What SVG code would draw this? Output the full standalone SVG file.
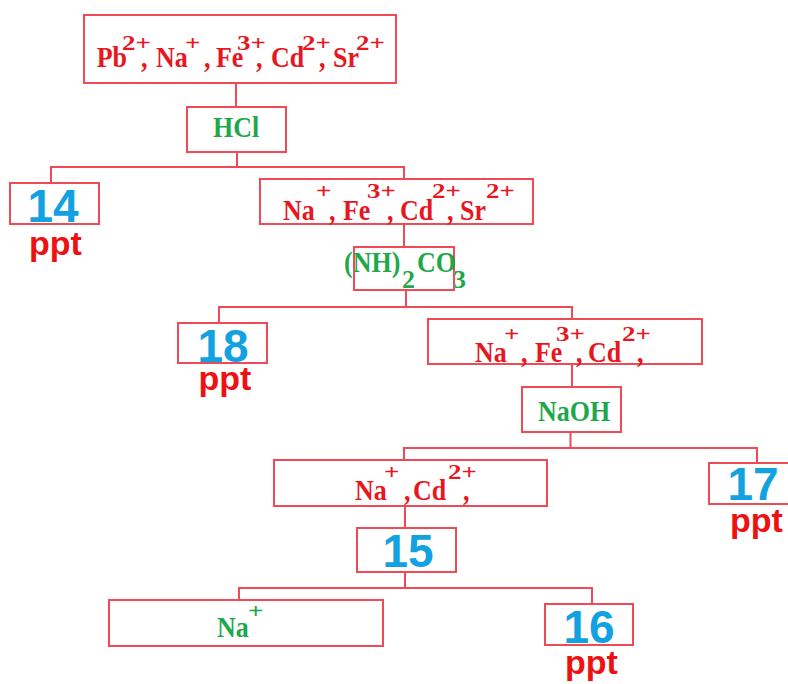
<svg xmlns="http://www.w3.org/2000/svg" width="788" height="684" viewBox="0 0 788 684">
  <style>
    .box { fill: #ffffff; stroke: #ef4a55; stroke-width: 2; }
    .wire { fill: none; stroke: #ef4a55; stroke-width: 2; }
    .ion { font-family: "Liberation Serif", "Times New Roman", serif; font-weight: bold; font-size: 26px; fill: #e8161f; }
    .reag { font-family: "Liberation Serif", "Times New Roman", serif; font-weight: bold; font-size: 26px; fill: #1ea84a; }
    .sup { font-size: 27px; }
    .num { font-family: "Liberation Sans", Arial, sans-serif; font-weight: bold; font-size: 46px; fill: #12a2e2; text-anchor: middle; }
    .ppt { font-family: "Liberation Sans", Arial, sans-serif; font-weight: bold; font-size: 34px; fill: #ee1111; text-anchor: middle; }
  </style>

  <!-- connectors -->
  <g id="connectors" class="wire">
    <path d="M236 83V107"/>
    <path d="M237 152V167M51 183V167H404V179"/>
    <path d="M404 224V247"/>
    <path d="M406 290V307M219 323V307H572V319"/>
    <path d="M572 364V387"/>
    <path d="M570.5 432V448M404 460V448H757V463"/>
    <path d="M405 506V528"/>
    <path d="M405 572V588M239 600V588H592V604"/>
  </g>

  <!-- starting mixture -->
  <g id="mixture">
    <rect class="box" x="84" y="15" width="312" height="68"/>
    <g transform="translate(0 66.7) scale(1 1.12)">
      <text class="ion" x="96.7">Pb</text>
      <text class="ion" x="141">,</text>
      <text class="ion" x="156">Na</text>
      <text class="ion" x="204">,</text>
      <text class="ion" x="216">Fe</text>
      <text class="ion" x="256">,</text>
      <text class="ion" x="271">Cd</text>
      <text class="ion" x="319">,</text>
      <text class="ion" x="333">Sr</text>
    </g>
    <g transform="translate(0 50) scale(1 0.75)">
      <text class="ion sup" x="122">2+</text>
      <text class="ion sup" x="185">+</text>
      <text class="ion sup" x="237">3+</text>
      <text class="ion sup" x="302">2+</text>
      <text class="ion sup" x="356">2+</text>
    </g>
  </g>

  <g id="hcl">
    <rect class="box" x="187" y="107" width="99" height="45"/>
    <g transform="translate(0 137) scale(1 1.12)">
      <text class="reag" x="213">HCl</text>
    </g>
  </g>

  <g id="ppt14">
    <rect class="box" x="10" y="183" width="89" height="41"/>
    <text class="num" x="53" y="222">14</text>
    <text class="ppt" x="55.5" y="255">ppt</text>
  </g>

  <g id="filtrate1">
    <rect class="box" x="260" y="179" width="273" height="45"/>
    <g transform="translate(0 220) scale(1 1.12)">
      <text class="ion" x="283">Na</text>
      <text class="ion" x="329">,</text>
      <text class="ion" x="343">Fe</text>
      <text class="ion" x="387">,</text>
      <text class="ion" x="400">Cd</text>
      <text class="ion" x="447">,</text>
      <text class="ion" x="460">Sr</text>
    </g>
    <g transform="translate(0 198) scale(1 0.75)">
      <text class="ion sup" x="316">+</text>
      <text class="ion sup" x="367">3+</text>
      <text class="ion sup" x="432">2+</text>
      <text class="ion sup" x="486">2+</text>
    </g>
  </g>

  <g id="carbonate">
    <rect class="box" x="354" y="247" width="100" height="43"/>
    <g transform="translate(0 271.7) scale(1 1.1)">
      <text class="reag" x="344">(NH)</text>
      <text class="reag" x="417">CO</text>
    </g>
    <text class="reag" x="402" y="288">2</text>
    <text class="reag" x="453" y="288">3</text>
  </g>

  <g id="ppt18">
    <rect class="box" x="178" y="323" width="89" height="40"/>
    <text class="num" x="223" y="361.7">18</text>
    <text class="ppt" x="225" y="390">ppt</text>
  </g>

  <g id="filtrate2">
    <rect class="box" x="428" y="319" width="274" height="45"/>
    <g transform="translate(0 361.7) scale(1 1.12)">
      <text class="ion" x="475">Na</text>
      <text class="ion" x="521">,</text>
      <text class="ion" x="535">Fe</text>
      <text class="ion" x="576">,</text>
      <text class="ion" x="588">Cd</text>
      <text class="ion" x="637">,</text>
    </g>
    <g transform="translate(0 341) scale(1 0.75)">
      <text class="ion sup" x="504">+</text>
      <text class="ion sup" x="556">3+</text>
      <text class="ion sup" x="622">2+</text>
    </g>
  </g>

  <g id="naoh">
    <rect class="box" x="522" y="387" width="99" height="45"/>
    <g transform="translate(0 421) scale(1 1.12)">
      <text class="reag" x="538">NaOH</text>
    </g>
  </g>

  <g id="filtrate3">
    <rect class="box" x="274" y="460" width="273" height="46"/>
    <g transform="translate(0 499.5) scale(1 1.12)">
      <text class="ion" x="355">Na</text>
      <text class="ion" x="404">,</text>
      <text class="ion" x="413">Cd</text>
      <text class="ion" x="463">,</text>
    </g>
    <g transform="translate(0 479) scale(1 0.75)">
      <text class="ion sup" x="384">+</text>
      <text class="ion sup" x="448">2+</text>
    </g>
  </g>

  <g id="ppt17">
    <rect class="box" x="709" y="463" width="89" height="41"/>
    <text class="num" x="753" y="500">17</text>
    <text class="ppt" x="756.5" y="532">ppt</text>
  </g>

  <g id="step15">
    <rect class="box" x="357" y="528" width="99" height="44"/>
    <text class="num" x="408" y="566.7">15</text>
  </g>

  <g id="sodium">
    <rect class="box" x="109" y="600" width="274" height="46"/>
    <g transform="translate(0 637.3) scale(1 1.12)">
      <text class="reag" x="217">Na</text>
    </g>
    <g transform="translate(0 618) scale(1 0.75)">
      <text class="reag sup" x="248">+</text>
    </g>
  </g>

  <g id="ppt16">
    <rect class="box" x="545" y="604" width="88" height="41"/>
    <text class="num" x="589" y="643.3">16</text>
    <text class="ppt" x="591.5" y="674">ppt</text>
  </g>
</svg>
